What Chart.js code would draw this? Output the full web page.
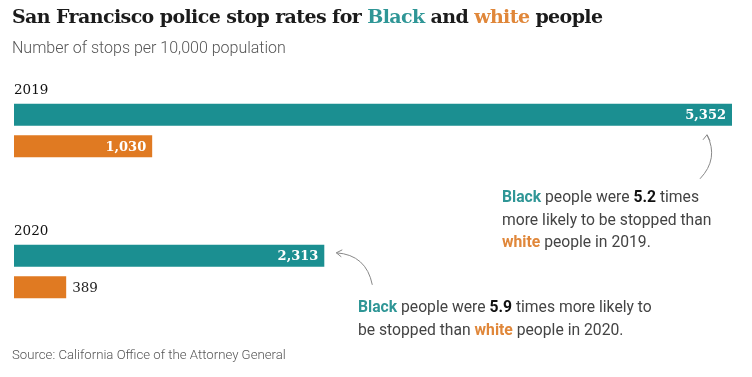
<!DOCTYPE html>
<html>
<head>
<meta charset="utf-8">
<script src="https://cdn.jsdelivr.net/npm/chart.js@4.4.1/dist/chart.umd.min.js"></script>
<style>
  html, body { margin: 0; padding: 0; background: #fff; }
  #wrap { position: relative; width: 752px; height: 377px; overflow: hidden; }
  #wrap canvas { position: absolute; left: 0; top: 0; }
  .txt { position: absolute; white-space: nowrap; }
  #title { left: 12px; top: 5px; font: bold 19px "DejaVu Serif", serif; color: #1b1b1b; letter-spacing: -0.6px; }
  #sub { left: 12px; top: 38px; font: 300 16px Roboto, sans-serif; color: #555; }
  .note { font: 15.7px Roboto, sans-serif; color: #444; line-height: 22.5px; }
  #note1 { left: 502px; top: 186px; }
  #note2 { left: 358px; top: 296px; }
  #source { left: 12px; top: 347px; font: 300 13.2px Roboto, sans-serif; color: #555; }
  .bl { color: #2f9696; font-weight: bold; }
  .wh { color: #e0873a; font-weight: bold; }
  .num { color: #111; font-weight: bold; }
</style>
</head>
<body>
<div id="wrap">
  <canvas id="chart" width="752" height="377"></canvas>
  <div class="txt" id="title">San Francisco police stop rates for <span style="color:#2f9696">Black</span> and <span style="color:#e0873a">white</span> people</div>
  <div class="txt" id="sub">Number of stops per 10,000 population</div>
  <div class="txt note" id="note1"><span class="bl">Black</span> people were <span class="num">5.2</span> times<br>more likely to be stopped than<br><span class="wh">white</span> people in 2019.</div>
  <div class="txt note" id="note2"><span class="bl">Black</span> people were <span class="num">5.9</span> times more likely to<br>be stopped than <span class="wh">white</span> people in 2020.</div>
  <div class="txt" id="source">Source: California Office of the Attorney General</div>
</div>
<script>
const years = ["2019", "2020"];
const blackRates = [5352, 2313];
const whiteRates = [1030, 389];

const teal = "#1b8f91";
const orange = "#e07a22";

// year labels, value labels and the two annotation arrows
const labelPlugin = {
  id: "labels",
  afterDatasetsDraw(chart) {
    const ctx = chart.ctx;
    const blackMeta = chart.getDatasetMeta(0);
    const whiteMeta = chart.getDatasetMeta(1);

    ctx.save();
    ctx.textBaseline = "middle";

    // years above each group
    ctx.font = "13.5px 'DejaVu Serif', serif";
    ctx.fillStyle = "#111";
    ctx.textAlign = "left";
    blackMeta.data.forEach(function (bar, i) {
      ctx.fillText(years[i], bar.base, bar.y - bar.height / 2 - 13);
    });

    // values
    [blackMeta, whiteMeta].forEach(function (meta, d) {
      const vals = d === 0 ? blackRates : whiteRates;
      meta.data.forEach(function (bar, i) {
        const txt = vals[i].toLocaleString("en-US");
        const w = bar.x - bar.base;
        ctx.font = "bold 13px 'DejaVu Serif', serif";
        const tw = ctx.measureText(txt).width;
        if (w > tw + 40) {
          ctx.fillStyle = "#fff";
          ctx.textAlign = "right";
          ctx.fillText(txt, bar.x - 6, bar.y + 1);
        } else {
          ctx.font = "13.5px 'DejaVu Serif', serif";
          ctx.fillStyle = "#222";
          ctx.textAlign = "left";
          ctx.fillText(txt, bar.x + 6, bar.y + 1);
        }
      });
    });

    // arrows
    ctx.strokeStyle = "#888";
    ctx.lineWidth = 1;
    const b0 = blackMeta.data[0];
    const a1x = b0.x - 25, a1y = b0.y + b0.height / 2 + 9;
    ctx.beginPath();
    ctx.moveTo(a1x - 7, a1y + 44);
    ctx.quadraticCurveTo(a1x + 12, a1y + 24, a1x, a1y);
    ctx.stroke();
    ctx.beginPath();
    ctx.moveTo(a1x - 4, a1y + 5);
    ctx.lineTo(a1x, a1y);
    ctx.lineTo(a1x + 3, a1y + 6);
    ctx.stroke();

    const b1 = blackMeta.data[1];
    const a2x = b1.x + 12, a2y = b1.y - 3;
    ctx.beginPath();
    ctx.moveTo(a2x + 36, a2y + 32);
    ctx.quadraticCurveTo(a2x + 30, a2y + 2, a2x, a2y);
    ctx.stroke();
    ctx.beginPath();
    ctx.moveTo(a2x + 6, a2y - 3);
    ctx.lineTo(a2x, a2y);
    ctx.lineTo(a2x + 5, a2y + 4);
    ctx.stroke();

    ctx.restore();
  }
};

new Chart(document.getElementById("chart"), {
  type: "bar",
  data: {
    labels: years,
    datasets: [
      {
        label: "Black",
        data: blackRates,
        backgroundColor: teal,
        barPercentage: 0.7,
        categoryPercentage: 0.445,
      },
      {
        label: "white",
        data: whiteRates,
        backgroundColor: orange,
        barPercentage: 0.7,
        categoryPercentage: 0.445,
      },
    ],
  },
  options: {
    indexAxis: "y",
    responsive: false,
    animation: false,
    layout: { padding: { left: 14, right: 20, top: 60, bottom: 35 } },
    scales: {
      x: { display: false, min: 0, max: Math.max(...blackRates) },
      y: { display: false },
    },
    plugins: {
      legend: { display: false },
      tooltip: { enabled: false },
    },
  },
  plugins: [labelPlugin],
});
</script>
</body>
</html>
